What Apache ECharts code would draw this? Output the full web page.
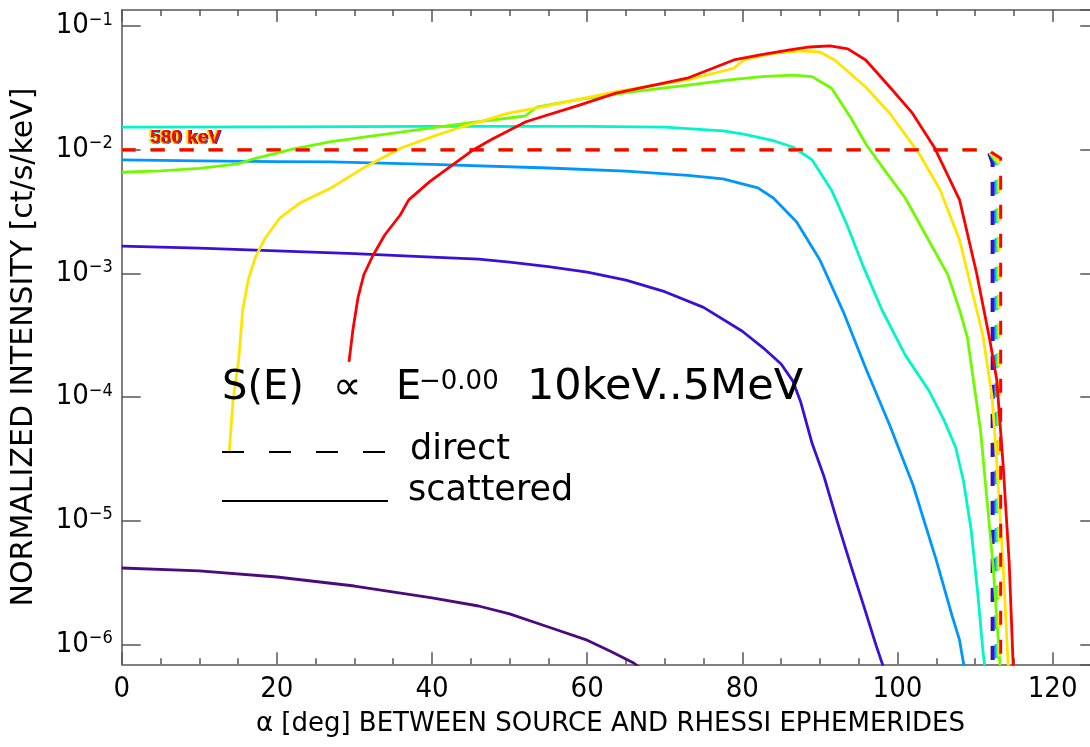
<!DOCTYPE html>
<html>
<head>
<meta charset="utf-8">
<script src="https://cdn.jsdelivr.net/npm/echarts@6/dist/echarts.min.js"></script>
<style>
html,body{margin:0;padding:0;background:#fff;}
#c{width:1090px;height:747px;}
</style>
</head>
<body>
<div id="c"></div>
<script>
// ---------------- DATA (alpha [deg], normalized intensity [ct/s/keV]) ----------------
const energyLabel = '580 keV';
const spectrumText = ['S(E)', '\u221D', 'E', '\u22120.00', '10keV..5MeV'];
const legendTexts = ['direct', 'scattered'];
const xTitle = '\u03B1 [deg] BETWEEN SOURCE AND RHESSI EPHEMERIDES';
const yTitle = 'NORMALIZED INTENSITY [ct/s/keV]';

// scattered (solid) curves
const scatteredPurple = [[0,4.14e-6],[10,3.92e-6],[20,3.50e-6],[30,2.96e-6],[40,2.37e-6],[46,2.04e-6],[50,1.76e-6],[55,1.38e-6],[60,1.08e-6],[63,8.8e-7],[66,7.06e-7],[67,6.3e-7]];
const scatteredViolet = [[0,1.66e-3],[10,1.60e-3],[20,1.52e-3],[30,1.44e-3],[40,1.35e-3],[46,1.30e-3],[50,1.23e-3],[55,1.13e-3],[60,1.02e-3],[65,8.8e-4],[70,7.1e-4],[75,5.3e-4],[80,3.4e-4],[83,2.4e-4],[85,1.85e-4],[86.5,1.35e-4],[87.5,9.2e-5],[89,4.2e-5],[90.5,2.3e-5],[92.2,1.0e-5],[94,4.3e-6],[95.7,2.0e-6],[97.2,1.0e-6],[98.2,6.5e-7]];
const scatteredAzure = [[0,8.25e-3],[10,8.1e-3],[20,8.0e-3],[27,7.95e-3],[40,7.6e-3],[55,7.1e-3],[65,6.7e-3],[73,6.2e-3],[77.5,5.8e-3],[82,4.9e-3],[84,4.06e-3],[87,2.6e-3],[90,1.28e-3],[93,4.9e-4],[96,1.65e-4],[99,5.9e-5],[102,1.94e-5],[105,4.8e-6],[107,1.73e-6],[108,1.08e-6],[108.6,6.5e-7]];
const scatteredCyan = [[0,1.52e-2],[20,1.53e-2],[40,1.54e-2],[60,1.54e-2],[70,1.52e-2],[77.5,1.42e-2],[80,1.34e-2],[84,1.18e-2],[86.5,1.05e-2],[89,8.25e-3],[91.5,4.7e-3],[93.5,2.46e-3],[95.5,1.17e-3],[98,5.05e-4],[101,2.18e-4],[104,1.14e-4],[106,6.5e-5],[107.5,3.9e-5],[108.5,2.1e-5],[109.5,8.4e-6],[110.3,2.75e-6],[111,9.0e-7],[111.3,6.2e-7]];
const scatteredGreen = [[0,6.56e-3],[5,6.72e-3],[10,7.05e-3],[15,7.66e-3],[16.5,8.25e-3],[22,1.01e-2],[27,1.16e-2],[35,1.36e-2],[40,1.50e-2],[45,1.65e-2],[52,1.87e-2],[53.5,2.21e-2],[59,2.55e-2],[66,2.95e-2],[73,3.33e-2],[78,3.65e-2],[82.5,3.89e-2],[86.5,4.01e-2],[89,3.89e-2],[91.5,3.14e-2],[94,1.80e-2],[96,1.09e-2],[98.5,6.6e-3],[101,4.06e-3],[104,1.86e-3],[106.5,9.7e-4],[108,5.05e-4],[109,3.05e-4],[110.7,5.4e-5],[112.3,4.5e-6],[113.2,7.0e-7],[113.3,6.0e-7]];
const scatteredYellow = [[13.85,3.5e-5],[14.35,9.45e-5],[15.08,1.99e-4],[15.6,5.05e-4],[16.3,8.8e-4],[17.2,1.33e-3],[18.5,1.93e-3],[20.4,2.8e-3],[23,3.71e-3],[26.9,4.87e-3],[31.45,7.28e-3],[36,1.03e-2],[40.6,1.31e-2],[43.9,1.53e-2],[49.9,1.97e-2],[54.4,2.23e-2],[63.7,2.94e-2],[72.9,3.66e-2],[78.9,4.55e-2],[80.2,5.31e-2],[83.6,5.94e-2],[87.4,6.28e-2],[90,6.16e-2],[91.9,5.31e-2],[95.9,3.21e-2],[99,1.97e-2],[102.9,9.06e-3],[105.5,4.72e-3],[108,1.86e-3],[111,3.17e-4],[112.2,1.0e-4],[112.8,2.92e-5],[113.6,4.54e-6],[114.25,7.06e-7],[114.4,6.0e-7]];
const scatteredRed = [[29.3,1.92e-4],[29.8,3.48e-4],[30.45,6.32e-4],[31.2,9.69e-4],[32.3,1.36e-3],[33.9,2.04e-3],[35.9,2.96e-3],[37,3.92e-3],[39.7,5.51e-3],[45.3,9.94e-3],[47.6,1.20e-2],[52.1,1.68e-2],[59.1,2.30e-2],[63.7,2.86e-2],[72.9,3.78e-2],[78.9,5.31e-2],[82.3,5.83e-2],[86.1,6.40e-2],[88.7,6.76e-2],[91.3,6.89e-2],[93.6,6.52e-2],[95.9,5.31e-2],[99,3.21e-2],[101.9,1.98e-2],[104.8,1.03e-2],[108,3.92e-3],[110.2,1.0e-3],[111.9,2.89e-4],[112.8,1.37e-4],[113.6,2.92e-5],[114.4,4.54e-6],[114.9,7.06e-7],[115,6.0e-7]];

// direct (dashed) curves
const directPurple = [[0,1e-2],[111.6,1e-2],[112.2,7.8e-3],[112.2,1e-8]];
const directViolet = [[0,1e-2],[111.6,1e-2],[112.35,7.8e-3],[112.35,1e-8]];
const directAzure  = [[0,1e-2],[111.6,1e-2],[112.7,7.8e-3],[112.7,1e-8]];
const directCyan   = [[0,1e-2],[111.6,1e-2],[112.85,7.8e-3],[112.85,1e-8]];
const directGreen  = [[0,1e-2],[111.6,1e-2],[113.0,7.8e-3],[113.0,1e-8]];
const directYellow = [[0,1e-2],[111.6,1e-2],[113.1,7.8e-3],[113.1,1e-8]];
const directRed    = [[0,1e-2],[111.6,1e-2],[113.3,8.5e-3],[113.3,1e-8]];

// axis ranges
const xRange = [0, 126];
const xMajor = 20, xMinor = 5;
const yRange = [6.89e-7, 0.1346];

// ---------------- STYLE ----------------
const colors = {purple:'#4b0a7d', violet:'#3a10d6', azure:'#0096ff', cyan:'#00f5c8', green:'#70fa00', yellow:'#ffe400', red:'#ff0000'};
const NUMFONT = '"Liberation Sans Narrow","DejaVu Sans Condensed","Liberation Sans",sans-serif';
const TXTFONT = '"DejaVu Sans","Liberation Sans",sans-serif';
const AXC = '#555555';

const groups = [
  ['purple', directPurple, scatteredPurple],
  ['violet', directViolet, scatteredViolet],
  ['azure', directAzure, scatteredAzure],
  ['cyan', directCyan, scatteredCyan],
  ['green', directGreen, scatteredGreen],
  ['yellow', directYellow, scatteredYellow],
  ['red', directRed, scatteredRed]
];

const series = [];
groups.forEach(([k, dir, sca], i) => {
  series.push({type:'line', name:k+' direct', data:dir, symbol:'none', showSymbol:false, silent:true, z:2+i*2,
    lineStyle:{color:colors[k], width:3, type:[14,15]}, animation:false, clip:true});
  series.push({type:'line', name:k+' scattered', data:sca, symbol:'none', showSymbol:false, silent:true, z:3+i*2,
    lineStyle:{color:colors[k], width:2.8, type:'solid', join:'round'}, animation:false, clip:true});
});

const axLine = {show:true, onZero:false, lineStyle:{color:AXC, width:1.5}};
function xAx(pos, interval, len, labels, line){
  return {type:'value', gridIndex:0, position:pos, min:xRange[0], max:xRange[1], interval:interval,
    axisLine: line ? axLine : {show:false, onZero:false},
    axisTick:{show:true, inside:true, length:len, lineStyle:{color:AXC, width:1.5}},
    axisLabel: labels ? {show:true, margin:11, color:'#000', fontSize:29, fontFamily:NUMFONT, showMaxLabel:false, showMinLabel:true} : {show:false},
    splitLine:{show:false}, minorTick:{show:false}};
}
const xAxes = [
  Object.assign(xAx('bottom', xMajor, 12, true, true), {name:xTitle, nameLocation:'middle', nameGap:47,
    nameTextStyle:{fontSize:26, fontFamily:TXTFONT, color:'#000'}}),
  xAx('top', xMajor, 12, false, true),
  xAx('bottom', xMinor, 6, false, false),
  xAx('top', xMinor, 6, false, false)
];
function yAx(pos, labels){
  return {type:'log', logBase:10, position:pos, min:yRange[0], max:yRange[1],
    axisLine:axLine,
    axisTick:{show:true, inside:true, length:19, lineStyle:{color:AXC, width:1.5}},
    axisLabel: labels ? {show:true, margin:9, showMinLabel:false, showMaxLabel:false, color:'#000',
      formatter:function(v){const e=Math.round(Math.log10(v)); return '{b|10}{s|\u2212'+Math.abs(e)+'}';},
      rich:{b:{fontSize:29, fontFamily:NUMFONT, color:'#000', lineHeight:30},
            s:{fontSize:18, fontFamily:NUMFONT, color:'#000', lineHeight:18, verticalAlign:'top'}}} : {show:false},
    splitLine:{show:false}, minorTick:{show:false}};
}
const yAxes = [yAx('left', true), yAx('right', false)];

// energy label (stacked labels of all channels; red on top)
const labelOffsets = [['purple',1,0],['violet',1,1],['azure',0,1],['cyan',-1,1],['green',-1,0],['yellow',-2,0],['red',0,0]];
const labelGraphics = labelOffsets.map(([k,dx,dy],i)=>({type:'text', x:150+dx, y:138+dy, z:100+i, silent:true,
  style:{text:energyLabel, fill:colors[k], font:'bold 19px "Liberation Sans",sans-serif', verticalAlign:'middle', align:'left'}}));

const big = (t, x, size, y) => ({type:'text', x:x, y:y, z:120, silent:true,
  style:{text:t, font:size+'px '+TXTFONT, fill:'#000', verticalAlign:'middle', align:'left'}});

const option = {
  animation:false,
  backgroundColor:'#fff',
  grid:{left:121.7, top:10, width:977.5, height:654.3, containLabel:false, outerBoundsMode:'none'},
  xAxis:xAxes,
  yAxis:yAxes,
  series:series,
  graphic:[
    ...labelGraphics,
    {type:'text', x:24, y:347, rotation:Math.PI/2, z:120, silent:true,
      style:{text:yTitle, font:'30px '+TXTFONT, fill:'#000', verticalAlign:'middle', align:'center'}},
    big(spectrumText[0], 222, 40, 389),
    big(spectrumText[1], 333, 40, 389),
    big(spectrumText[2], 396, 40, 389),
    big(spectrumText[3], 419, 26, 382),
    big(spectrumText[4], 527, 43, 388),
    {type:'line', z:120, silent:true, shape:{x1:222, y1:452, x2:388, y2:452}, style:{stroke:'#000', lineWidth:2, lineDash:[22,25]}},
    {type:'text', x:410, y:450, z:120, silent:true, style:{text:legendTexts[0], font:'35px '+TXTFONT, fill:'#000', verticalAlign:'middle', align:'left'}},
    {type:'line', z:120, silent:true, shape:{x1:222, y1:501, x2:388, y2:501}, style:{stroke:'#000', lineWidth:2}},
    {type:'text', x:408, y:491, z:120, silent:true, style:{text:legendTexts[1], font:'35px '+TXTFONT, fill:'#000', verticalAlign:'middle', align:'left'}}
  ]
};

const chart = echarts.init(document.getElementById('c'), null, {renderer:'canvas', width:1090, height:747});
chart.setOption(option);
</script>
</body>
</html>
